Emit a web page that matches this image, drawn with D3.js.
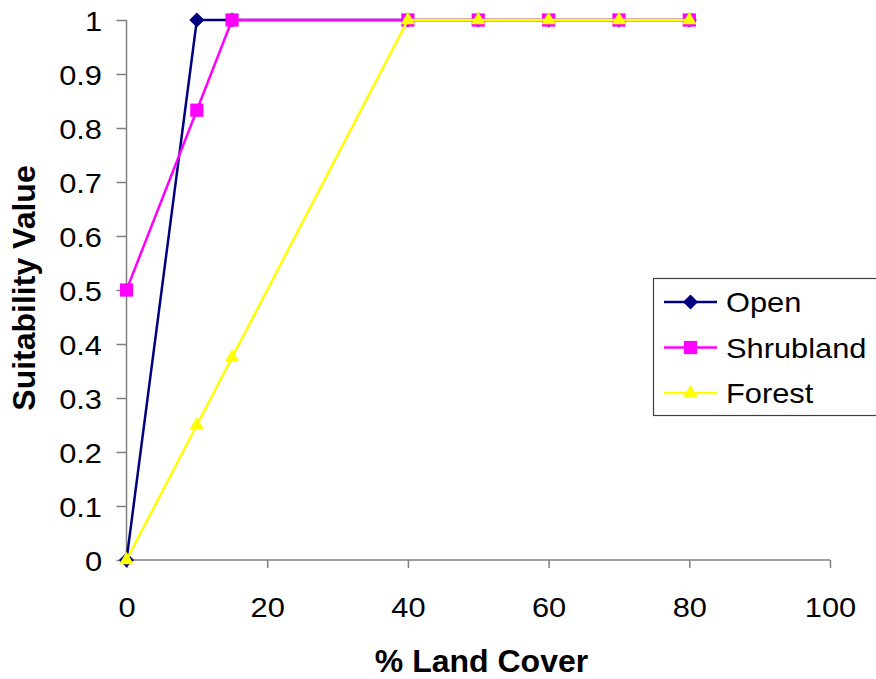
<!DOCTYPE html>
<html><head><meta charset="utf-8">
<script src="https://cdn.jsdelivr.net/npm/d3@7"></script>
<style>body{margin:0;background:#fff}svg{display:block}text{font-family:Arial,"Liberation Sans",sans-serif}</style>
</head><body><svg id="c" width="876" height="679"></svg>
<script>
const xValues = [0, 10, 15, 40, 50, 60, 70, 80];
const openValues = [0, 1, 1, 1, 1, 1, 1, 1];
const shrublandValues = [0.5, 0.833, 1, 1, 1, 1, 1, 1];
const forestValues = [0, 0.25, 0.375, 1, 1, 1, 1, 1];
const seriesNames = ["Open", "Shrubland", "Forest"];
const xTicks = [0, 20, 40, 60, 80, 100];
const yTicks = [0, 0.1, 0.2, 0.3, 0.4, 0.5, 0.6, 0.7, 0.8, 0.9, 1];

const svg = d3.select("#c");
const x = d3.scaleLinear().domain([0, 100]).range([126.5, 830]);
const y = d3.scaleLinear().domain([0, 1]).range([560, 20]);
const axisColor = "#808080";
const stretch = sel => sel.each(function () {
  const w = this.getComputedTextLength();
  d3.select(this).attr("textLength", w * 1.1).attr("lengthAdjust", "spacingAndGlyphs");
});

const xAxis = svg.append("g").attr("transform", "translate(0,560)")
  .call(d3.axisBottom(x).tickValues(xTicks).tickSize(8).tickFormat(d3.format("d")));
const yAxis = svg.append("g").attr("transform", "translate(126.5,0)")
  .call(d3.axisLeft(y).tickValues(yTicks).tickSize(10).tickFormat(d => d === 0 || d === 1 ? d3.format("d")(d) : d3.format(".1f")(d)));
[xAxis, yAxis].forEach(a => {
  a.attr("font-family", null).attr("font-size", null);
  a.selectAll("path").attr("stroke", axisColor).attr("stroke-width", 1.5);
  a.selectAll("line").attr("stroke", axisColor).attr("stroke-width", 1.5);
  a.selectAll("text").attr("font-size", 28).attr("fill", "#000");
});
xAxis.selectAll("text").attr("y", 57).attr("dy", 0);
yAxis.selectAll("text").attr("x", -24.5).attr("dy", "0.36em");
xAxis.selectAll("text").call(stretch);
yAxis.selectAll("text").call(stretch);
xAxis.select(".domain").attr("d", "M126.5,0H830");
yAxis.select(".domain").attr("d", "M0,560V20");

svg.append("text").attr("x", 481.5).attr("y", 672).attr("text-anchor", "middle")
  .attr("font-size", 32).attr("font-weight", "bold").text("% Land Cover");
svg.append("text").attr("transform", "translate(35,288) rotate(-90)").attr("text-anchor", "middle")
  .attr("font-size", 32).attr("font-weight", "bold").text("Suitability Value");

const series = [
  {name: seriesNames[0], values: openValues, color: "#000080", shape: "diamond"},
  {name: seriesNames[1], values: shrublandValues, color: "#FF00FF", shape: "square"},
  {name: seriesNames[2], values: forestValues, color: "#FFFF00", shape: "triangle"}
];
const symbolOf = s => s === "diamond" ? d3.symbol().type(d3.symbolDiamond2).size(145)
  : s === "square" ? d3.symbol().type(d3.symbolSquare).size(175)
  : d3.symbol().type(d3.symbolTriangle2).size(150);

const line = d3.line().x(d => x(d[0])).y(d => y(d[1]));
series.forEach(s => {
  const pts = xValues.map((xv, i) => [xv, s.values[i]]);
  const g = svg.append("g");
  g.append("path").attr("d", line(pts)).attr("fill", "none").attr("stroke", s.color).attr("stroke-width", 2.5);
  g.selectAll("path.m").data(pts).enter().append("path").attr("class", "m")
    .attr("transform", d => `translate(${x(d[0])},${y(d[1])})`)
    .attr("d", symbolOf(s.shape)()).attr("fill", s.color);
});

// legend
const lg = svg.append("g");
lg.append("rect").attr("x", 653.5).attr("y", 278.5).attr("width", 240).attr("height", 137)
  .attr("fill", "#fff").attr("stroke", "#404040").attr("stroke-width", 1.2);
series.forEach((s, i) => {
  const cy = 302 + i * 45.5;
  lg.append("line").attr("x1", 664).attr("x2", 717).attr("y1", cy).attr("y2", cy).attr("stroke", s.color).attr("stroke-width", 2.5);
  lg.append("path").attr("transform", `translate(690.5,${cy})`).attr("d", symbolOf(s.shape)()).attr("fill", s.color);
  lg.append("text").attr("x", 726).attr("y", cy + 10).attr("font-size", 28).text(s.name).call(stretch);
});
</script></body></html>
